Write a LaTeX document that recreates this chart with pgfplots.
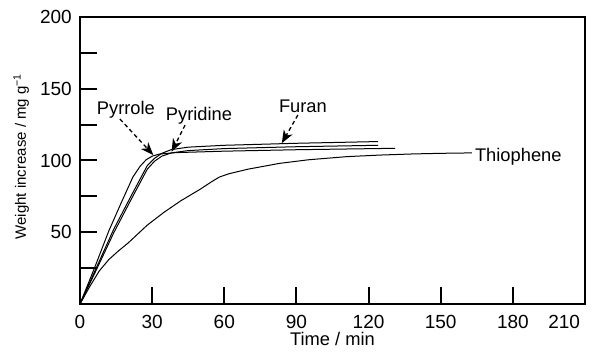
\documentclass[border=0pt]{standalone}
\usepackage{fontspec}
\setmainfont{Liberation Sans}
\usepackage{pgfplots}
\pgfplotsset{compat=1.18}
\usetikzlibrary{arrows.meta}
\newcommand\fs{\fontsize{18.3}{22}\selectfont}
\newcommand\fst{\fontsize{19}{22}\selectfont}
\newcommand\fsy{\fontsize{15}{18}\selectfont}
\begin{document}
\begin{tikzpicture}
\useasboundingbox (-80pt,-52pt) rectangle (514pt,304pt);
\begin{axis}[
  at={(0,0)}, anchor=south west, scale only axis,
  width=505pt, height=287pt,
  xmin=0, xmax=210, ymin=0, ymax=200,
  axis line style={line width=1.6pt},
  tick align=inside, xtick pos=left, ytick pos=left,
  major tick length=17pt,
  major tick style={black, line width=2pt},
  xtick={0,30,60,90,120,150,180,210},
  xticklabels={0,30,60,90,120,150,180,{\makebox[0pt][r]{210\hspace{5pt}}}},
  ytick={25,50,75,100,125,150,175,200},
  yticklabels={,50,,100,,150,,200},
  /pgf/number format/assume math mode=true,
  every tick label/.append style={font=\fst, inner sep=0pt},
  xticklabel style={anchor=base, yshift=-24pt},
  yticklabel style={xshift=-8pt},
  xlabel={Time / min},
  ylabel={Weight increase / mg g\textsuperscript{−1}},
  xlabel style={font=\fs, inner sep=0pt, at={(axis description cs:0.5,0)}, anchor=base, yshift=-41pt},
  ylabel style={font=\fsy, inner sep=0pt, at={(axis description cs:-0.107,0.514)}, anchor=base},
  clip=false,
]
% Pyrrole
\addplot[black, line width=1pt, line join=round] coordinates {(0,0) (6,25) (12,51) (17,70) (22,88.5) (25,96) (27.5,100.5) (30,103) (33,104.5) (40,105.5) (60,106.5) (90,107.5) (131,108.5)};
% Pyridine
\addplot[black, line width=1pt, line join=round] coordinates {(0,0) (7,24.5) (14,49.5) (21,72) (28,94) (31,99.5) (34,103) (38,105.3) (45,106.9) (60,108.3) (90,109.6) (124,110.6)};
% Furan
\addplot[black, line width=1pt, line join=round] coordinates {(0,0) (7,26) (14,52) (21,74.5) (28,96.5) (31,101.5) (34,105) (38,107.6) (45,109.3) (60,110.6) (90,112) (124,113.2)};
% Thiophene
\addplot[black, line width=1pt, line join=round] coordinates {(0,0) (4,12) (8,23) (12,31) (16,37) (20,42.5) (28,55) (35,64) (42,72) (50,80) (55,85.5) (58,88.5) (62,90.8) (70,94) (83,98) (95,100.5) (111,102.7) (125,103.8) (139,104.6) (150,105) (163,105.3)};

\node[font=\fs] at (axis cs:19.1,135.2) {Pyrrole};
\node[font=\fs] at (axis cs:49.5,131) {Pyridine};
\node[font=\fs] at (axis cs:92.7,138) {Furan};
\node[font=\fs, anchor=west, inner sep=0pt] at (axis cs:164.2,102.8) {Thiophene};

\draw[line width=1.3pt, dash pattern=on 4pt off 3pt, -{Stealth[length=13pt,width=10pt,inset=4pt]}] (axis cs:16.6,128.9) -- (axis cs:30.5,103.8);
\draw[line width=1.3pt, dash pattern=on 4pt off 3pt, -{Stealth[length=13pt,width=10pt,inset=4pt]}] (axis cs:43.7,124.7) -- (axis cs:38.1,106.1);
\draw[line width=1.3pt, dash pattern=on 4pt off 3pt, -{Stealth[length=13pt,width=10pt,inset=4pt]}] (axis cs:90.6,131.7) -- (axis cs:83.9,112);
\end{axis}
\end{tikzpicture}
\end{document}
